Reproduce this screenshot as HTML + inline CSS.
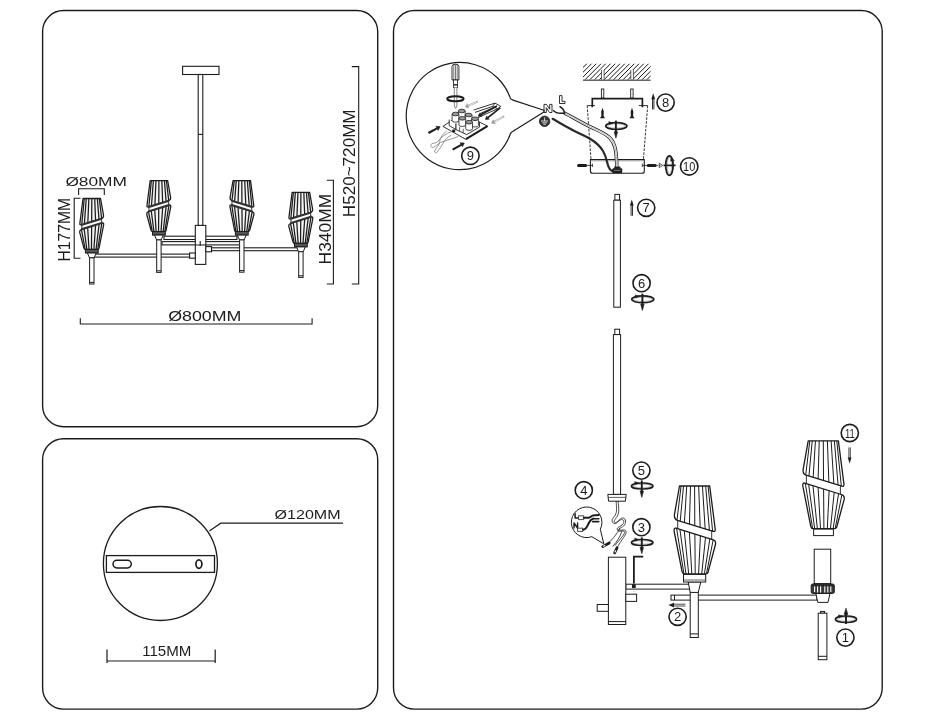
<!DOCTYPE html>
<html><head><meta charset="utf-8"><title>Assembly diagram</title>
<style>html,body{margin:0;padding:0;background:#fff;}body{width:925px;height:720px;overflow:hidden;}svg{display:block;filter:grayscale(1);}text.dim{stroke:none;}text{font-family:"Liberation Sans",sans-serif;fill:#1c1c1c;}</style>
</head><body>
<svg width="925" height="720" viewBox="0 0 925 720">
<rect width="925" height="720" fill="#fff"/>
<defs><clipPath id="ceil"><rect x="583" y="63.7" width="67.6" height="16"/></clipPath></defs>
<g fill="none" stroke="#1c1c1c" stroke-width="1.4">
<rect x="42.6" y="10.5" width="335.1" height="416.2" rx="21" ry="21"/>
<rect x="42.6" y="438.7" width="335.1" height="270.4" rx="21" ry="21"/>
<rect x="393.5" y="10.5" width="488.7" height="698.6" rx="21" ry="21"/>
</g>
<g id="p1">
<g fill="#fff" stroke="#1c1c1c" stroke-width="1.1">
<rect x="182.6" y="66.3" width="36.4" height="8.2"/>
<rect x="198.2" y="74.5" width="4.6" height="151"/>
<path d="M198.2,134.4 H202.8" fill="none"/>
<rect x="164" y="236.2" width="73" height="3.3"/>
<rect x="162" y="241.6" width="79" height="3.3"/>
<rect x="211.5" y="247.8" width="88" height="2.9"/>
<rect x="93" y="254.1" width="97" height="3"/>
<rect x="195.3" y="225.4" width="10.5" height="39"/>
<path d="M195.3,245 H205.8 M200.2,241 V246" fill="none"/>
<rect x="189.6" y="253" width="5.7" height="5.2"/>
<rect x="205.8" y="246.6" width="5.7" height="5.2"/>
</g>
<g transform="translate(91.8,198.5) scale(-0.58,0.58)" fill="none" stroke="#1c1c1c" stroke-linejoin="round" stroke-linecap="round">
<path d="M-15.1,0 L15.1,0 L20.6,43 Q20.9,46 18.6,45.3 L-17.2,34.3 Q-20.6,33.1 -20.2,28.8 Z" fill="#f4f4f4" stroke-width="2.16"/>
<path d="M-18.6,42.2 L18,53.6 Q21.4,54.6 21,58 L13.6,85.6 Q13.2,87.8 11,87.8 L-10,87.8 Q-12,87.8 -12.5,85.6 L-20.4,45.5 Q-20.9,41.5 -18.6,42.2 Z" fill="#f4f4f4" stroke-width="2.16"/>
<path d="M-13.03,0.4 L-16.89,34.1 M-17.22,42.93 L-10.27,87.5 M-9.58,0.4 L-12.37,35.49 M-12.58,44.37 L-7.4,87.5 M-5.08,0.4 L-6.46,37.3 M-6.53,46.26 L-3.64,87.5 M-0,0.4 L0.2,39.35 M0.3,48.39 L0.6,87.5 M5.08,0.4 L6.86,41.39 M7.13,50.51 L4.84,87.5 M9.58,0.4 L12.77,43.21 M13.18,52.4 L8.6,87.5 M13.03,0.4 L17.29,44.6 M17.82,53.84 L11.47,87.5" stroke-width="2.16"/>
<path d="M-16.9,34.6 V42.6 M17.1,45 V53.2" stroke-width="1.55"/>
<path d="M-17.2,34.9 L18.6,45.9 M-18.6,41.6 L18,53" stroke-width="3.36" stroke-linecap="butt" stroke="#333"/>
</g>
<g fill="#fff" stroke="#1c1c1c" stroke-width="1">
<rect x="85.4" y="249.42" width="12.8" height="3.6" fill="#555"/>
<path d="M87.4,253.02 L96.2,253.02 L94.1,257.82 L89.5,257.82 Z"/>
<rect x="89.6" y="257.82" width="4.4" height="26.18"/>
<path d="M89.6,282.4 H94" fill="none"/>
</g>
<g transform="translate(158.9,180.6) scale(-0.58,0.58)" fill="none" stroke="#1c1c1c" stroke-linejoin="round" stroke-linecap="round">
<path d="M-15.1,0 L15.1,0 L20.6,43 Q20.9,46 18.6,45.3 L-17.2,34.3 Q-20.6,33.1 -20.2,28.8 Z" fill="#f4f4f4" stroke-width="2.16"/>
<path d="M-18.6,42.2 L18,53.6 Q21.4,54.6 21,58 L13.6,85.6 Q13.2,87.8 11,87.8 L-10,87.8 Q-12,87.8 -12.5,85.6 L-20.4,45.5 Q-20.9,41.5 -18.6,42.2 Z" fill="#f4f4f4" stroke-width="2.16"/>
<path d="M-13.03,0.4 L-16.89,34.1 M-17.22,42.93 L-10.27,87.5 M-9.58,0.4 L-12.37,35.49 M-12.58,44.37 L-7.4,87.5 M-5.08,0.4 L-6.46,37.3 M-6.53,46.26 L-3.64,87.5 M-0,0.4 L0.2,39.35 M0.3,48.39 L0.6,87.5 M5.08,0.4 L6.86,41.39 M7.13,50.51 L4.84,87.5 M9.58,0.4 L12.77,43.21 M13.18,52.4 L8.6,87.5 M13.03,0.4 L17.29,44.6 M17.82,53.84 L11.47,87.5" stroke-width="2.16"/>
<path d="M-16.9,34.6 V42.6 M17.1,45 V53.2" stroke-width="1.55"/>
<path d="M-17.2,34.9 L18.6,45.9 M-18.6,41.6 L18,53" stroke-width="3.36" stroke-linecap="butt" stroke="#333"/>
</g>
<g fill="#fff" stroke="#1c1c1c" stroke-width="1">
<rect x="152.5" y="231.52" width="12.8" height="3.6" fill="#555"/>
<path d="M154.5,235.12 L163.3,235.12 L161.2,239.92 L156.6,239.92 Z"/>
<rect x="156.7" y="239.92" width="4.4" height="32.48"/>
<path d="M156.7,270.8 H161.1" fill="none"/>
</g>
<g transform="translate(241.8,180.6) scale(0.58,0.58)" fill="none" stroke="#1c1c1c" stroke-linejoin="round" stroke-linecap="round">
<path d="M-15.1,0 L15.1,0 L20.6,43 Q20.9,46 18.6,45.3 L-17.2,34.3 Q-20.6,33.1 -20.2,28.8 Z" fill="#f4f4f4" stroke-width="2.16"/>
<path d="M-18.6,42.2 L18,53.6 Q21.4,54.6 21,58 L13.6,85.6 Q13.2,87.8 11,87.8 L-10,87.8 Q-12,87.8 -12.5,85.6 L-20.4,45.5 Q-20.9,41.5 -18.6,42.2 Z" fill="#f4f4f4" stroke-width="2.16"/>
<path d="M-13.03,0.4 L-16.89,34.1 M-17.22,42.93 L-10.27,87.5 M-9.58,0.4 L-12.37,35.49 M-12.58,44.37 L-7.4,87.5 M-5.08,0.4 L-6.46,37.3 M-6.53,46.26 L-3.64,87.5 M-0,0.4 L0.2,39.35 M0.3,48.39 L0.6,87.5 M5.08,0.4 L6.86,41.39 M7.13,50.51 L4.84,87.5 M9.58,0.4 L12.77,43.21 M13.18,52.4 L8.6,87.5 M13.03,0.4 L17.29,44.6 M17.82,53.84 L11.47,87.5" stroke-width="2.16"/>
<path d="M-16.9,34.6 V42.6 M17.1,45 V53.2" stroke-width="1.55"/>
<path d="M-17.2,34.9 L18.6,45.9 M-18.6,41.6 L18,53" stroke-width="3.36" stroke-linecap="butt" stroke="#333"/>
</g>
<g fill="#fff" stroke="#1c1c1c" stroke-width="1">
<rect x="235.4" y="231.52" width="12.8" height="3.6" fill="#555"/>
<path d="M237.4,235.12 L246.2,235.12 L244.1,239.92 L239.5,239.92 Z"/>
<rect x="239.6" y="239.92" width="4.4" height="32.28"/>
<path d="M239.6,270.6 H244" fill="none"/>
</g>
<g transform="translate(300.9,192.4) scale(-0.58,0.58)" fill="none" stroke="#1c1c1c" stroke-linejoin="round" stroke-linecap="round">
<path d="M-15.1,0 L15.1,0 L20.6,43 Q20.9,46 18.6,45.3 L-17.2,34.3 Q-20.6,33.1 -20.2,28.8 Z" fill="#f4f4f4" stroke-width="2.16"/>
<path d="M-18.6,42.2 L18,53.6 Q21.4,54.6 21,58 L13.6,85.6 Q13.2,87.8 11,87.8 L-10,87.8 Q-12,87.8 -12.5,85.6 L-20.4,45.5 Q-20.9,41.5 -18.6,42.2 Z" fill="#f4f4f4" stroke-width="2.16"/>
<path d="M-13.03,0.4 L-16.89,34.1 M-17.22,42.93 L-10.27,87.5 M-9.58,0.4 L-12.37,35.49 M-12.58,44.37 L-7.4,87.5 M-5.08,0.4 L-6.46,37.3 M-6.53,46.26 L-3.64,87.5 M-0,0.4 L0.2,39.35 M0.3,48.39 L0.6,87.5 M5.08,0.4 L6.86,41.39 M7.13,50.51 L4.84,87.5 M9.58,0.4 L12.77,43.21 M13.18,52.4 L8.6,87.5 M13.03,0.4 L17.29,44.6 M17.82,53.84 L11.47,87.5" stroke-width="2.16"/>
<path d="M-16.9,34.6 V42.6 M17.1,45 V53.2" stroke-width="1.55"/>
<path d="M-17.2,34.9 L18.6,45.9 M-18.6,41.6 L18,53" stroke-width="3.36" stroke-linecap="butt" stroke="#333"/>
</g>
<g fill="#fff" stroke="#1c1c1c" stroke-width="1">
<rect x="294.5" y="243.32" width="12.8" height="3.6" fill="#555"/>
<path d="M296.5,246.92 L305.3,246.92 L303.2,251.72 L298.6,251.72 Z"/>
<rect x="298.7" y="251.72" width="4.4" height="25.68"/>
<path d="M298.7,275.8 H303.1" fill="none"/>
</g>
<g fill="none" stroke="#1c1c1c" stroke-width="1.1">
<path d="M78.6,195 V188.8 H104.3 V195"/>
<path d="M80.5,198.3 H74.2 V258.2 H80.5"/>
<path d="M80.3,318.2 V324 H312.1 V318.2"/>
<path d="M326.8,180.2 H333.4 V284 H326.8"/>
<path d="M351.8,66.6 H358.7 V284 H351.8"/>
</g>
<text class="dim" x="65.4" y="185.6" font-size="13.2" textLength="61.6" lengthAdjust="spacingAndGlyphs">Ø80MM</text>
<text class="dim" x="168.2" y="321" font-size="14.2" textLength="73.2" lengthAdjust="spacingAndGlyphs">Ø800MM</text>
<text class="dim" transform="translate(69.6,261.6) rotate(-90)" font-size="15.6" textLength="63.8" lengthAdjust="spacingAndGlyphs">H177MM</text>
<text class="dim" transform="translate(330.8,264.4) rotate(-90)" font-size="15.6" textLength="70.6" lengthAdjust="spacingAndGlyphs">H340MM</text>
<text class="dim" transform="translate(355.2,217.2) rotate(-90)" font-size="15.6" textLength="107.8" lengthAdjust="spacingAndGlyphs">H520~720MM</text>
</g>
<g id="p2">
<g fill="#fff" stroke="#1c1c1c" stroke-width="1.3">
<circle cx="160.4" cy="563.5" r="57"/>
<rect x="106.4" y="555.6" width="108.1" height="16.8"/>
<rect x="113" y="560.3" width="18.3" height="7.6" rx="3.8" ry="3.8" stroke-width="1.5"/>
<ellipse cx="198.9" cy="564.1" rx="3" ry="4.2" stroke-width="1.7"/>
<path d="M209.4,530.9 L220.7,523.2 H343" fill="none" stroke-width="1.2"/>
<path d="M107,649.6 V663 M215.2,649.6 V663 M107,661 H215.2" fill="none" stroke-width="1.2"/>
</g>
<text class="dim" x="274.6" y="518.8" font-size="13.4" textLength="66" lengthAdjust="spacingAndGlyphs">Ø120MM</text>
<text class="dim" x="142.2" y="655.8" font-size="14.4" textLength="49.2" lengthAdjust="spacingAndGlyphs">115MM</text>
</g>
<g id="p3">
<g clip-path="url(#ceil)"><path d="M560,81 L578,63 M564.75,81 L582.75,63 M569.5,81 L587.5,63 M574.25,81 L592.25,63 M579,81 L597,63 M583.75,81 L601.75,63 M588.5,81 L606.5,63 M593.25,81 L611.25,63 M598,81 L616,63 M602.75,81 L620.75,63 M607.5,81 L625.5,63 M612.25,81 L630.25,63 M617,81 L635,63 M621.75,81 L639.75,63 M626.5,81 L644.5,63 M631.25,81 L649.25,63 M636,81 L654,63 M640.75,81 L658.75,63 M645.5,81 L663.5,63 M650.25,81 L668.25,63 M655,81 L673,63 M659.75,81 L677.75,63" stroke="#1c1c1c" stroke-width="1.0" fill="none"/><rect x="601.5" y="70" width="2.6" height="11" fill="#fff"/><rect x="630.8" y="70" width="2.6" height="11" fill="#fff"/><path d="M601.5,81 V70 M604.1,81 V70 M630.8,81 V70 M633.4,81 V70" stroke="#1c1c1c" stroke-width="0.7"/></g>
<path d="M583,80.2 H650.6" stroke="#666" stroke-width="1.5"/>
<g fill="#fff" stroke="#1c1c1c" stroke-width="0.9"><rect x="601.4" y="89" width="2.4" height="9"/><rect x="630.7" y="89" width="2.4" height="9"/></g>
<path d="M592.3,107.3 V98.7 H642.4 V107.3" fill="none" stroke="#1c1c1c" stroke-width="1.7"/>
<path d="M587.2,105.6 H595 M638.8,105.6 H647.8" fill="none" stroke="#1c1c1c" stroke-width="0.9"/>
<path d="M587.2,105.6 L591,159.5 M647.7,105.6 L643.4,159.5" fill="none" stroke="#1c1c1c" stroke-width="0.9" stroke-dasharray="2.6 1.3"/>
<path d="M590.4,159.6 H644.3 V171 Q644.3,173.3 642,173.3 H592.7 Q590.4,173.3 590.4,171 Z" fill="#fff" stroke="#1c1c1c" stroke-width="1.1"/>
<path d="M590.4,160.9 H644.3" stroke="#888" stroke-width="0.6"/>
<path d="M587,165.4 H592.4 M642.3,165.4 H647.6 M592.4,163.6 V167 M642.3,163.6 V167" stroke="#1c1c1c" stroke-width="0.8" fill="none"/>
<path d="M578.6,165.4 H585.6 M648.2,165.4 H655.2" stroke="#1c1c1c" stroke-width="3" stroke-linecap="round"/>
<path d="M577.4,165.4 L579.6,163.6 V167.2 Z" fill="#1c1c1c"/>
<path d="M656.5,165.4 H661" stroke="#1c1c1c" stroke-width="0.9" stroke-dasharray="1.4 1"/><path d="M659.2,163.2 L662.8,165.4 L659.2,167.6 Z" fill="none" stroke="#1c1c1c" stroke-width="0.7"/>
<path d="M602.5,107.8 L603.8,111.5 L603.6,116 L605.1,118.3 H599.9 L601.4,116 L601.2,111.5 Z" fill="#1c1c1c"/>
<path d="M632,107.8 L633.3,111.5 L633.1,116 L634.6,118.3 H629.4 L630.9,116 L630.7,111.5 Z" fill="#1c1c1c"/>
<g stroke="#1c1c1c" fill="none">
<ellipse cx="616.3" cy="126" rx="10.6" ry="3.4" stroke-width="1.7"/>
<ellipse cx="616.3" cy="126" rx="9" ry="2.1" stroke-width="0.5" stroke="#777"/>
<path d="M608.7,121.6 L613.1,122.9 L609.3,124.6 Z" fill="#1c1c1c" stroke-width="0.4"/>
<path d="M615.9,120.6 V133.2" stroke-width="1.9"/>
<path d="M614.2,131.8 L617.6,131.8 L615.9,138.2 Z" fill="#1c1c1c" stroke-width="0.6"/>
</g>
<path d="M652.5,109.4 V98.2 M653.9,109.4 V98.2" stroke="#1c1c1c" stroke-width="0.9" fill="none"/><path d="M651.3,99.2 L655.1,99.2 L653.2,93.2 Z" fill="#1c1c1c"/>
<circle cx="665.6" cy="102.6" r="8.6" fill="#fff" stroke="#1c1c1c" stroke-width="1.6"/><text x="665.6" y="107.2" font-size="13" text-anchor="middle">8</text>
<g stroke="#1c1c1c" fill="none"><ellipse cx="669.4" cy="165.6" rx="3.7" ry="9.8" stroke-width="1.8"/><ellipse cx="669.4" cy="165.6" rx="2.2" ry="8.2" stroke-width="0.5" stroke="#777"/><path d="M663.6,165.4 H675.6" stroke-width="1.7"/><path d="M671.2,157.2 L674.4,160.6 L670.6,161.2 Z" fill="#1c1c1c" stroke-width="0.4"/></g>
<circle cx="689.2" cy="166.4" r="8.7" fill="#fff" stroke="#1c1c1c" stroke-width="1.6"/><text x="689.2" y="171" font-size="13" text-anchor="middle" textLength="12.2" lengthAdjust="spacingAndGlyphs">10</text>
<path d="M564.4,113 C574,118 582,123 590.2,126.9 C599,131 605,133 609.5,137.5 C615,143 616.6,150 616.8,168" fill="none" stroke="#1c1c1c" stroke-width="3.5"/>
<path d="M564.4,113 C574,118 582,123 590.2,126.9 C599,131 605,133 609.5,137.5 C615,143 616.6,150 616.8,168" fill="none" stroke="#fff" stroke-width="1.9"/>
<path d="M564.4,113 C574,118 582,123 590.2,126.9 C599,131 605,133 609.5,137.5 C615,143 616.6,150 616.8,168" fill="none" stroke="#777" stroke-width="0.5"/>
<path d="M560,106.8 C562.5,108 564,110 564.6,113.2 M553.6,110.6 C556,113.6 560,113.6 564.4,113" fill="none" stroke="#1c1c1c" stroke-width="1.5" stroke-linecap="round"/>
<path d="M552.6,118.8 C560,123 566,126.5 572.5,130 C580,134 585,136 590,138.8 C597,143 600,146 603,151 C606,156 606.5,160 607.6,164 C608.6,168 609.6,170.6 613,171.2" fill="none" stroke="#2a2a2a" stroke-width="2.2" stroke-linecap="round"/>
<rect x="612.4" y="168.2" width="9.8" height="5" rx="1" fill="#1c1c1c"/><rect x="614.2" y="166.6" width="6.2" height="2.2" fill="#1c1c1c"/>
<path d="M614,170.4 H620.6" stroke="#bbb" stroke-width="0.6"/>
<path d="M544,112.5 V104.4 H546.5 L549.7,109.2 V104.4 H552 V112.5 H549.5 L546.3,107.7 V112.5 Z" fill="#fff" stroke="#1c1c1c" stroke-width="0.9" stroke-linejoin="round"/>
<path d="M559.5,95.6 H562 V101.3 H565 V103.5 H559.5 Z" fill="#fff" stroke="#1c1c1c" stroke-width="0.9" stroke-linejoin="round"/>
<circle cx="544.6" cy="121.3" r="5.2" fill="#333" stroke="#1c1c1c" stroke-width="0.8"/><path d="M544.6,117.4 V121 M541,121 H548.2 M542.2,122.8 H547 M543.4,124.4 H545.8" stroke="#fff" stroke-width="0.8" fill="none"/>
<path d="M543.9,110.2 L513,100.1 Q510.6,99.3 510.3,98.1 A53.6,53.6 0 1 0 510.5,133.5 Q510.9,132.5 513,131.3 L543.9,112 Z" fill="#fff" stroke="#1c1c1c" stroke-width="1.2" stroke-linejoin="round"/>
<g stroke="#1c1c1c" fill="#fff"><path d="M452,66.4 Q452,64.2 455.4,64.2 Q458.9,64.2 458.9,66.4 V80 H452 Z" stroke-width="0.9"/><path d="M453.8,65 V80 M455.5,64.4 V80 M457.2,65 V80" stroke-width="0.6" fill="none"/><rect x="453.4" y="80" width="4.2" height="7.4" stroke-width="0.8"/><path d="M453.4,84.8 H457.6" stroke-width="1.4"/><path d="M454.3,87.4 V106 L455.6,108.4 L456.9,106 V87.4" stroke="#666" stroke-width="0.8"/></g>
<ellipse cx="455.4" cy="98.7" rx="8.2" ry="2.5" fill="none" stroke="#1c1c1c" stroke-width="2"/>
<path d="M454.3,99.4 V104 M456.9,99.4 V104" stroke="#fff" stroke-width="0"/>
<g stroke="#1c1c1c" stroke-width="0.9" fill="#fff" stroke-linejoin="round"><path d="M442.9,126.4 L462,113.6 L487.6,126.1 L465.7,139.3 Z"/><path d="M465.9,139.1 L487.4,126.2" stroke-width="2"/><path d="M449.2,119.6 L449.2,125.6 L456,129.6 L456,123.6"/><path d="M456,123.6 L456,129.6 L466.7,134.6 L479.6,127 L479.4,121.6"/><path d="M459.6,127 V131 M463.2,128.8 V132.8" stroke-width="0.7"/></g>
<path d="M458.4,111 V117.6 A3.4,1.6 0 0 0 465.2,117.6 V111" fill="#fff" stroke="#1c1c1c" stroke-width="0.8"/><ellipse cx="461.8" cy="111" rx="3.4" ry="1.8" fill="#999" stroke="#1c1c1c" stroke-width="0.8"/>
<path d="M452.1,114 V120.6 A3.4,1.6 0 0 0 458.9,120.6 V114" fill="#fff" stroke="#1c1c1c" stroke-width="0.8"/><ellipse cx="455.5" cy="114" rx="3.4" ry="1.8" fill="#999" stroke="#1c1c1c" stroke-width="0.8"/>
<path d="M465.2,115 V121.6 A3.4,1.6 0 0 0 472,121.6 V115" fill="#fff" stroke="#1c1c1c" stroke-width="0.8"/><ellipse cx="468.6" cy="115" rx="3.4" ry="1.8" fill="#999" stroke="#1c1c1c" stroke-width="0.8"/>
<path d="M458.9,118.3 V124.9 A3.4,1.6 0 0 0 465.7,124.9 V118.3" fill="#fff" stroke="#1c1c1c" stroke-width="0.8"/><ellipse cx="462.3" cy="118.3" rx="3.4" ry="1.8" fill="#999" stroke="#1c1c1c" stroke-width="0.8"/>
<path d="M471.6,118.8 V125.4 A3.4,1.6 0 0 0 478.4,125.4 V118.8" fill="#fff" stroke="#1c1c1c" stroke-width="0.8"/><ellipse cx="475" cy="118.8" rx="3.4" ry="1.8" fill="#999" stroke="#1c1c1c" stroke-width="0.8"/>
<path d="M465.7,122.2 V128.8 A3.4,1.6 0 0 0 472.5,128.8 V122.2" fill="#fff" stroke="#1c1c1c" stroke-width="0.8"/><ellipse cx="469.1" cy="122.2" rx="3.4" ry="1.8" fill="#999" stroke="#1c1c1c" stroke-width="0.8"/>
<rect x="452.2" y="129.6" width="3" height="2.6" fill="#1c1c1c"/>
<path d="M428.4,133 L437.04,128.32" stroke="#1c1c1c" stroke-width="2.0" fill="none"/><path d="M438.18,130.43 L440.2,126.6 L435.89,126.21 Z" fill="#1c1c1c" stroke="#1c1c1c" stroke-width="0.5"/>
<path d="M452.6,149.6 L461.26,144.76" stroke="#1c1c1c" stroke-width="2.0" fill="none"/><path d="M462.43,146.85 L464.4,143 L460.09,142.66 Z" fill="#1c1c1c" stroke="#1c1c1c" stroke-width="0.5"/>
<path d="M497,106 L480.82,114.69" stroke="#1c1c1c" stroke-width="1.7" fill="none"/><path d="M479.87,112.92 L478,116.2 L481.77,116.45 Z" fill="#1c1c1c" stroke="#1c1c1c" stroke-width="0.5"/>
<path d="M500.2,107.8 L487.9,117.61" stroke="#1c1c1c" stroke-width="1.7" fill="none"/><path d="M486.59,115.96 L485.4,119.6 L489.21,119.25 Z" fill="#1c1c1c" stroke="#1c1c1c" stroke-width="0.5"/>
<path d="M477.6,101.6 L468.14,105.79" stroke="#999" stroke-width="1.8" fill="none"/><path d="M467.25,103.77 L465.4,107 L469.03,107.8 Z" fill="#999" stroke="#999" stroke-width="0.5"/>
<path d="M476.8,102 L468.4,105.7" stroke="#fff" stroke-width="0.8"/>
<path d="M504.2,116.2 L494.22,121.74" stroke="#999" stroke-width="1.8" fill="none"/><path d="M493.15,119.82 L491.6,123.2 L495.29,123.67 Z" fill="#999" stroke="#999" stroke-width="0.5"/>
<path d="M503.4,116.7 L494.6,121.6" stroke="#fff" stroke-width="0.8"/>
<path d="M473.6,110 L495,103.1 L500.8,106.4 L497.4,108.8 L478,117.6 M475,112.4 L492.6,106.4 L497.4,108.8 M495,103.1 L492.6,106.4 M480,113.6 L496,106.4" fill="none" stroke="#1c1c1c" stroke-width="0.9" stroke-linejoin="round"/>
<path d="M452,131.4 C446,133.6 441,137 437.6,141.6 C436,143.8 433,142.6 431.4,144 C430,145.4 431,148 433.2,147.4 C436.4,146.4 437.6,143.6 440.6,142.4 C446,140.4 452,139 458.4,136.4 M446.6,131 C443,133.6 440,137.6 439.6,141.8 C439.4,145 436,148 434.6,151 C434,152.6 436,153.4 437.2,152 C439.6,149 441.6,146 443,143.4 C445,139.6 448,136.6 451.4,135.2" fill="none" stroke="#8a8a8a" stroke-width="0.9"/>
<circle cx="470.4" cy="155.8" r="8.7" fill="#fff" stroke="#1c1c1c" stroke-width="1.6"/><text x="470.4" y="160.4" font-size="13" text-anchor="middle">9</text>
<g fill="#fff" stroke="#1c1c1c" stroke-width="1">
<rect x="614.9" y="194.4" width="4.7" height="5.8"/><rect x="613.8" y="200.2" width="6.6" height="107"/>
<rect x="614.8" y="329.2" width="4.8" height="5.4"/><rect x="613.4" y="334.6" width="7.2" height="159.8"/>
<path d="M607.8,494.4 H626.2 L625.4,501.2 H608.6 Z"/><path d="M608.2,497.4 H625.8" fill="none" stroke-width="0.7"/>
</g>
<path d="M631.1,215.8 V204.6 M632.5,215.8 V204.6" stroke="#1c1c1c" stroke-width="0.9" fill="none"/><path d="M629.9,205.6 L633.7,205.6 L631.8,199.6 Z" fill="#1c1c1c"/>
<circle cx="646.2" cy="207.8" r="8.6" fill="#fff" stroke="#1c1c1c" stroke-width="1.6"/><text x="646.2" y="212.4" font-size="13" text-anchor="middle">7</text>
<circle cx="641.6" cy="283.2" r="8.6" fill="#fff" stroke="#1c1c1c" stroke-width="1.6"/><text x="641.6" y="287.8" font-size="13" text-anchor="middle">6</text>
<g stroke="#1c1c1c" fill="none">
<ellipse cx="642.8" cy="299.3" rx="11" ry="3.4" stroke-width="1.7"/>
<ellipse cx="642.8" cy="299.3" rx="9.4" ry="2.1" stroke-width="0.5" stroke="#777"/>
<path d="M635.2,294.9 L639.6,296.2 L635.8,297.9 Z" fill="#1c1c1c" stroke-width="0.4"/>
<path d="M642.4,293.6 V305.6" stroke-width="1.9"/>
<path d="M640.7,304.2 L644.1,304.2 L642.4,310.6 Z" fill="#1c1c1c" stroke-width="0.6"/>
</g>
<circle cx="641.4" cy="470.6" r="8.6" fill="#fff" stroke="#1c1c1c" stroke-width="1.6"/><text x="641.4" y="475.2" font-size="13" text-anchor="middle">5</text>
<g stroke="#1c1c1c" fill="none">
<ellipse cx="642.2" cy="486" rx="10.8" ry="3" stroke-width="1.7"/>
<ellipse cx="642.2" cy="486" rx="9.2" ry="1.7" stroke-width="0.5" stroke="#777"/>
<path d="M634.6,481.6 L639,482.9 L635.2,484.6 Z" fill="#1c1c1c" stroke-width="0.4"/>
<path d="M641.8,480.4 V492.4" stroke-width="1.9"/>
<path d="M640.1,491 L643.5,491 L641.8,497.4 Z" fill="#1c1c1c" stroke-width="0.6"/>
</g>
<circle cx="583.8" cy="490.2" r="8.6" fill="#fff" stroke="#1c1c1c" stroke-width="1.6"/><text x="583.8" y="494.8" font-size="13" text-anchor="middle">4</text>
<circle cx="641.4" cy="527.2" r="8.6" fill="#fff" stroke="#1c1c1c" stroke-width="1.6"/><text x="641.4" y="531.8" font-size="13" text-anchor="middle">3</text>
<g stroke="#1c1c1c" fill="none">
<ellipse cx="642.2" cy="542.5" rx="10.8" ry="3" stroke-width="1.7"/>
<ellipse cx="642.2" cy="542.5" rx="9.2" ry="1.7" stroke-width="0.5" stroke="#777"/>
<path d="M634.6,538.1 L639,539.4 L635.2,541.1 Z" fill="#1c1c1c" stroke-width="0.4"/>
<path d="M641.8,537.4 V548.8" stroke-width="1.9"/>
<path d="M640.1,547.4 L643.5,547.4 L641.8,553.8 Z" fill="#1c1c1c" stroke-width="0.6"/>
</g>
<g fill="none" stroke="#1c1c1c" stroke-width="0.8"><path d="M616.2,501.2 C616.4,508 617.4,512 615,515.4 C612.4,518.6 611,521 613.4,523.2 C616,525.4 618.6,520 621.6,519.6 C624.6,519.4 624.4,523 622,525 C619.4,527.2 616,527.6 617.6,530.4 C619,532.6 623,529.4 624.4,531.6 C625.6,533.6 620,539 615,545.6"/><path d="M618.2,501.2 C618.6,508 619.6,512.6 617.2,516.4 C614.8,519.8 613.2,521.4 614.8,522.4 C617,523.6 619.4,518.2 622.6,518 C626.4,518 626.4,523.4 623.6,526 C621,528.2 618,528.4 619,529.8 C620.4,531.2 624.6,528.4 626,531 C627.4,534 621,540 617,548"/><path d="M620,528 C617,534 612,540 607,544.6 M622,531 C620,537 617,541.6 612.6,546.6"/></g>
<path d="M602.8,546.6 L609.2,543 M614.6,552.8 L617,547.8" stroke="#1c1c1c" stroke-width="2.8" stroke-linecap="round"/>
<path d="M603.6,546.2 L604.8,545.5 M615,551.9 L615.6,550.7" stroke="#fff" stroke-width="1.2" stroke-linecap="round"/>
<path d="M603.8,543.8 L591.8,536.7 A15.3,15.3 0 1 1 600.3,529.2 Z" fill="#fff" stroke="#1c1c1c" stroke-width="1" stroke-linejoin="round"/>
<g fill="none" stroke="#1c1c1c" stroke-linecap="round" stroke-linejoin="round"><path d="M575.1,513.8 V517.9 H578" stroke-width="1.5"/><path d="M574,528 V523 L577.6,528 V523" stroke-width="1.4"/><rect x="578.8" y="515.8" width="5" height="3.8" stroke-width="0.8" fill="#fff"/><rect x="578" y="528.2" width="5" height="3.2" stroke-width="0.8" fill="#fff"/><path d="M583.8,517.8 H588.4 C590.4,517.6 591.4,515.8 593,515.4 L598.8,515" stroke-width="2"/><path d="M592.6,518.8 H598.8 M592.6,521.6 H598.8" stroke-width="1.6"/><path d="M583,529.8 C586.4,529.8 587.4,526 588.8,523 C590,520.4 591.4,519.2 593,518.6" stroke-width="2"/></g>
<g fill="#fff" stroke="#1c1c1c" stroke-width="1">
<rect x="625.8" y="584.2" width="64" height="4.9"/>
<rect x="608.4" y="557.2" width="17.4" height="67.3"/><path d="M608.4,621.6 H625.8" fill="none"/>
<rect x="597.2" y="604.5" width="11.2" height="6.8"/><rect x="625.8" y="594.2" width="10.8" height="7.2"/>
</g>
<path d="M643.3,556.7 H633.9 V583.6" fill="none" stroke="#1c1c1c" stroke-width="1.8" stroke-linejoin="miter"/>
<rect x="632" y="584.2" width="3.7" height="3.8" fill="#1c1c1c"/>
<path d="M633.9,588.6 V594" stroke="#888" stroke-width="0.6" stroke-dasharray="1.2 1"/>
<g fill="#fff" stroke="#1c1c1c" stroke-width="1">
<rect x="671" y="595.1" width="146" height="5"/><path d="M674.5,595.1 V600.1" fill="none"/>
<rect x="690.2" y="592.4" width="8.1" height="45.1"/><path d="M690.2,633.9 H698.3" fill="none"/>
<path d="M688.2,582 H700.8 L698.3,592.4 H690.2 Z"/>
<rect x="683.5" y="574.4" width="22.2" height="7.6"/><path d="M683.5,580 H705.7" fill="none" stroke-width="0.7"/>
</g>
<g transform="translate(694.6,486) scale(1,1)" fill="none" stroke="#1c1c1c" stroke-linejoin="round" stroke-linecap="round">
<path d="M-15.1,0 L15.1,0 L20.6,43 Q20.9,46 18.6,45.3 L-17.2,34.3 Q-20.6,33.1 -20.2,28.8 Z" fill="#fff" stroke-width="1.3"/>
<path d="M-18.6,42.2 L18,53.6 Q21.4,54.6 21,58 L13.6,85.6 Q13.2,87.8 11,87.8 L-10,87.8 Q-12,87.8 -12.5,85.6 L-20.4,45.5 Q-20.9,41.5 -18.6,42.2 Z" fill="#fff" stroke-width="1.3"/>
<path d="M-13.56,0.4 L-17.58,33.88 M-17.93,42.71 L-10.72,87.5 M-11.11,0.4 L-14.37,34.87 M-14.64,43.73 L-8.67,87.5 M-7.88,0.4 L-10.14,36.17 M-10.3,45.09 L-5.98,87.5 M-4.09,0.4 L-5.16,37.7 M-5.2,46.67 L-2.81,87.5 M-0,0.4 L0.2,39.35 M0.3,48.39 L0.6,87.5 M4.09,0.4 L5.56,40.99 M5.8,50.1 L4.01,87.5 M7.88,0.4 L10.54,42.52 M10.9,51.69 L7.18,87.5 M11.11,0.4 L14.77,43.82 M15.24,53.04 L9.87,87.5 M13.56,0.4 L17.98,44.81 M18.53,54.07 L11.92,87.5" stroke-width="1"/>
<path d="M-16.9,34.6 V42.6 M17.1,45 V53.2" stroke-width="0.9"/>
</g>
<path d="M685.4,604.2 H673 M685.4,606 H673" stroke="#1c1c1c" stroke-width="0.8" fill="none"/><path d="M674,602.8 L668.4,605.1 L674,607.4 Z" fill="#1c1c1c"/>
<circle cx="677.6" cy="616.8" r="8.6" fill="#fff" stroke="#1c1c1c" stroke-width="1.6"/><text x="677.6" y="621.4" font-size="13" text-anchor="middle">2</text>
<g fill="#fff" stroke="#1c1c1c" stroke-width="1">
<path d="M815.8,593.4 H830 L828,602.4 H817.8 Z"/>
<rect x="814.2" y="549.2" width="16.5" height="34.4"/>
<rect x="811.2" y="584" width="23.1" height="9.4" rx="1.6" fill="#3a3a3a"/>
</g>
<path d="M814.6,586 V592 M817.6,585.6 V592.4 M820.6,585.6 V592.4 M824.8,585.6 V592.4 M827.8,585.6 V592.4 M830.8,586 V592" stroke="#fff" stroke-width="1.1"/>
<path d="M811.6,585.8 H834" stroke="#1c1c1c" stroke-width="1"/>
<g fill="#fff" stroke="#1c1c1c" stroke-width="1"><rect x="820.6" y="611.4" width="4" height="1.8"/><rect x="818.2" y="613.2" width="8.7" height="46.5"/><path d="M818.2,656.3 H826.9" fill="none"/></g>
<g stroke="#1c1c1c" fill="none">
<ellipse cx="846" cy="619.2" rx="10.6" ry="3.2" stroke-width="1.7"/>
<ellipse cx="846" cy="619.2" rx="9" ry="1.9" stroke-width="0.5" stroke="#777"/>
<path d="M838.4,614.8 L842.8,616.1 L839,617.8 Z" fill="#1c1c1c" stroke-width="0.4"/>
<path d="M846,624 V613.2" stroke-width="1.9"/>
<path d="M844.1,614.6 L847.9,614.6 L846,608.2 Z" fill="#1c1c1c" stroke-width="0.6"/>
</g>
<circle cx="845.4" cy="637.6" r="8.6" fill="#fff" stroke="#1c1c1c" stroke-width="1.6"/><text x="845.4" y="642.2" font-size="13" text-anchor="middle">1</text>
<rect x="813.6" y="529" width="19.8" height="6.6" fill="#fff" stroke="#1c1c1c" stroke-width="1"/>
<g transform="translate(823.3,440.9) scale(1,1)" fill="none" stroke="#1c1c1c" stroke-linejoin="round" stroke-linecap="round">
<path d="M-15.1,0 L15.1,0 L20.6,43 Q20.9,46 18.6,45.3 L-17.2,34.3 Q-20.6,33.1 -20.2,28.8 Z" fill="#fff" stroke-width="1.3"/>
<path d="M-18.6,42.2 L18,53.6 Q21.4,54.6 21,58 L13.6,85.6 Q13.2,87.8 11,87.8 L-10,87.8 Q-12,87.8 -12.5,85.6 L-20.4,45.5 Q-20.9,41.5 -18.6,42.2 Z" fill="#fff" stroke-width="1.3"/>
<path d="M-13.56,0.4 L-17.58,33.88 M-17.93,42.71 L-10.72,87.5 M-11.11,0.4 L-14.37,34.87 M-14.64,43.73 L-8.67,87.5 M-7.88,0.4 L-10.14,36.17 M-10.3,45.09 L-5.98,87.5 M-4.09,0.4 L-5.16,37.7 M-5.2,46.67 L-2.81,87.5 M-0,0.4 L0.2,39.35 M0.3,48.39 L0.6,87.5 M4.09,0.4 L5.56,40.99 M5.8,50.1 L4.01,87.5 M7.88,0.4 L10.54,42.52 M10.9,51.69 L7.18,87.5 M11.11,0.4 L14.77,43.82 M15.24,53.04 L9.87,87.5 M13.56,0.4 L17.98,44.81 M18.53,54.07 L11.92,87.5" stroke-width="1"/>
<path d="M-16.9,34.6 V42.6 M17.1,45 V53.2" stroke-width="0.9"/>
</g>
<circle cx="849.8" cy="433" r="8.6" fill="#fff" stroke="#1c1c1c" stroke-width="1.6"/><text x="849.8" y="437.6" font-size="13" text-anchor="middle" textLength="9.8" lengthAdjust="spacingAndGlyphs">11</text>
<path d="M848.9,447.4 V458.4 M850.3,447.4 V458.4" stroke="#1c1c1c" stroke-width="0.8" fill="none"/><path d="M847.7,457.4 L851.5,457.4 L849.6,463.4 Z" fill="#1c1c1c"/>
</g>
</svg></body></html>
